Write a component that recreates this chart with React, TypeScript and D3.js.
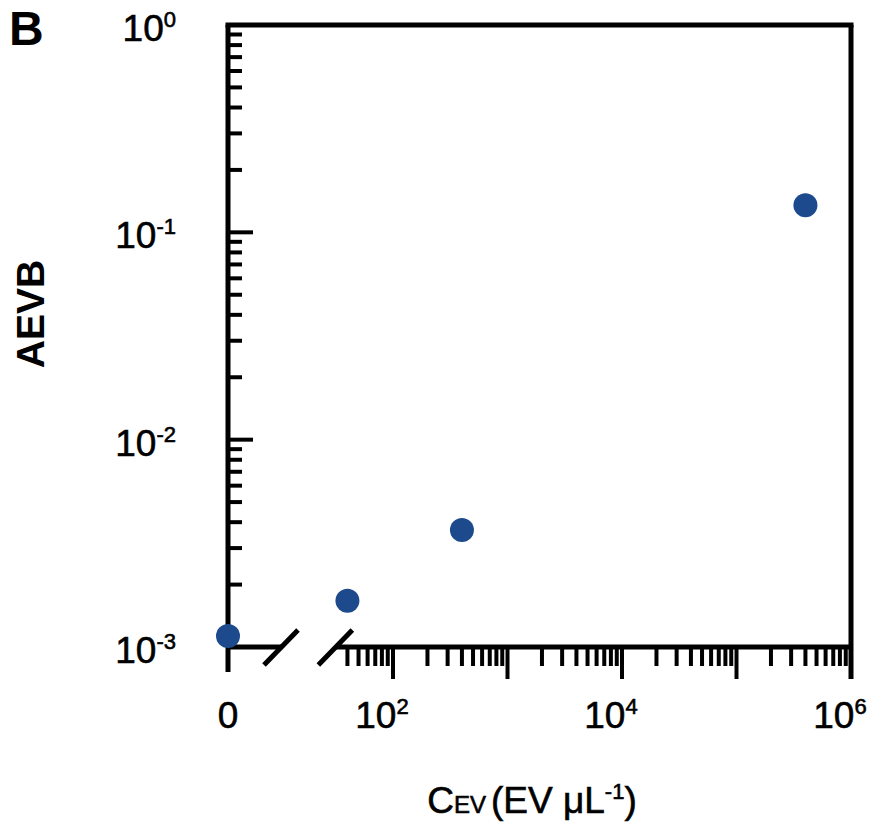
import React from 'react';
import * as d3 from 'd3';

// concentrations (EV per uL); 0 is the control drawn left of the axis break
const concentrations = [0, 40, 400, 400000];
const aevbValues = [0.00113, 0.00167, 0.00367, 0.135];

const yMajorTicks = [1e-3, 1e-2, 1e-1, 1];
const yTickExps = ['-3', '-2', '-1', '0'];
const xMajorTicks = [1e2, 1e3, 1e4, 1e5, 1e6];
const xLabelTicks = [1e2, 1e4, 1e6];
const xLabelExps = ['2', '4', '6'];

const W = 872;
const H = 834;
const BLUE = '#1c4a8c';
const FONT = '"Liberation Sans", Arial, Helvetica, sans-serif';

export default function App() {
  const y = d3.scaleLog().domain([1e-3, 1]).range([647, 25]);
  const x = d3.scaleLog().domain([1e2, 1e6]).range([393, 851]);
  const x0 = 228; // where 0 sits
  const logStart = x(32);

  // minor ticks
  const yMinor: number[] = [];
  [1e-3, 1e-2, 1e-1].forEach((d) => {
    for (let m = 2; m <= 9; m++) yMinor.push(d * m);
  });
  const xMinor: number[] = [];
  [1e1, 1e2, 1e3, 1e4, 1e5].forEach((d) => {
    for (let m = 2; m <= 9; m++) {
      if (d * m >= 35) xMinor.push(d * m);
    }
  });

  const bottom = y(1e-3);
  const top = y(1);
  const right = x(1e6);
  const sw = 5;

  // break slashes around the axis gap
  const breakA = x0 + 53;
  const breakB = logStart - 1;

  // labels in the source are a touch heavier than plain regular
  const heavy = { stroke: '#000', strokeWidth: 0.6 };

  return (
    <svg width={W} height={H} style={{ position: 'absolute', left: 0, top: 0, background: '#fff' }}
      fontFamily={FONT}>
      {/* panel letter */}
      <text x={9} y={45} fontSize={48} fontWeight="bold">B</text>

      {/* frame: top + right */}
      <line x1={x0 - sw / 2} y1={top} x2={right + sw / 2} y2={top} stroke="#000" strokeWidth={sw} />
      <line x1={right} y1={top} x2={right} y2={bottom + 32} stroke="#000" strokeWidth={sw} />

      {/* y axis */}
      <line x1={x0} y1={top} x2={x0} y2={bottom + 25} stroke="#000" strokeWidth={sw} />
      {yMinor.map((d, i) => (
        <line key={'ym' + i} x1={x0} x2={x0 + 14} y1={y(d)} y2={y(d)} stroke="#000" strokeWidth={4} />
      ))}
      {yMajorTicks.map((d, i) => (
        <line key={'yM' + i} x1={x0} x2={x0 + 25} y1={y(d)} y2={y(d)} stroke="#000" strokeWidth={4} />
      ))}
      {yMajorTicks.map((d, i) => (
        <text key={'yl' + i} x={176} y={y(d) + 16} textAnchor="end" fontSize={37} {...heavy}>
          10<tspan fontSize={22} dy={-14}>{yTickExps[i]}</tspan>
        </text>
      ))}

      {/* x axis: zero stub, break, log part */}
      <line x1={x0} y1={bottom} x2={breakA} y2={bottom} stroke="#000" strokeWidth={sw} />
      <line x1={breakB} y1={bottom} x2={right} y2={bottom} stroke="#000" strokeWidth={sw} />
      <line x1={breakA - 17} y1={bottom + 18} x2={breakA + 17} y2={bottom - 17} stroke="#000" strokeWidth={sw} />
      <line x1={breakB - 17} y1={bottom + 18} x2={breakB + 17} y2={bottom - 17} stroke="#000" strokeWidth={sw} />
      {xMinor.map((d, i) => (
        <line key={'xm' + i} x1={x(d)} x2={x(d)} y1={bottom} y2={bottom + 19} stroke="#000" strokeWidth={4} />
      ))}
      {xMajorTicks.map((d, i) => (
        <line key={'xM' + i} x1={x(d)} x2={x(d)} y1={bottom} y2={bottom + 32} stroke="#000" strokeWidth={4} />
      ))}
      <text x={x0} y={728} textAnchor="middle" fontSize={37} {...heavy}>0</text>
      {xLabelTicks.map((d, i) => (
        <text key={'xl' + i} x={x(d) - 11} y={728} textAnchor="middle" fontSize={37} {...heavy}>
          10<tspan fontSize={22} dy={-14}>{xLabelExps[i]}</tspan>
        </text>
      ))}

      {/* axis titles */}
      <text transform="translate(44,314) rotate(-90)" textAnchor="middle" fontSize={39} fontWeight="bold">AEVB</text>
      <text x={532} y={813} textAnchor="middle" fontSize={37} {...heavy}>
        C<tspan fontSize={24}>EV</tspan><tspan dx={5}>(EV μL</tspan><tspan fontSize={22} dy={-14}>-1</tspan><tspan dy={14}>)</tspan>
      </text>

      {/* points */}
      {concentrations.map((c, i) => (
        <circle key={'p' + i} cx={c === 0 ? x0 : x(c)} cy={y(aevbValues[i])} r={12} fill={BLUE} />
      ))}
    </svg>
  );
}
